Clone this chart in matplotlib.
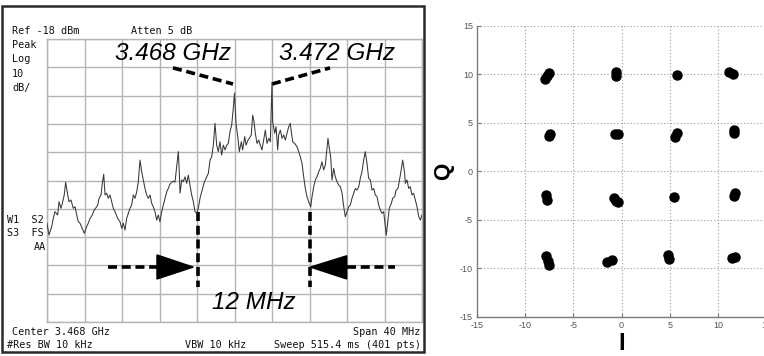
import matplotlib
matplotlib.use("Agg")
import matplotlib.pyplot as plt
from matplotlib.patches import Polygon, Rectangle

plt.rcParams["axes.unicode_minus"] = False

# ---------------- data ----------------
# Spectrum trace: frequency offset from 3.468 GHz (MHz) and level (dBm)
freq_mhz = [-20.0, -19.79, -19.50, -19.33, -19.15, -18.86, -18.72, -18.51, -18.37, -18.16,
            -18.01, -17.79, -17.65, -17.44, -17.20, -17.01, -16.83, -16.66, -16.48, -16.24,
            -16.02, -15.77, -15.60, -15.41, -15.17, -14.96, -14.81, -14.59, -14.45, -14.24,
            -14.10, -13.95, -13.81, -13.63, -13.46, -13.28, -13.10, -12.93, -12.67, -12.46,
            -12.21, -12.03, -11.86, -11.68, -11.50, -11.33, -11.15, -10.97, -10.79, -10.61,
            -10.43, -10.26, -10.08, -9.90, -9.73, -9.55, -9.37, -9.19, -9.01, -8.83,
            -8.66, -8.48, -8.30, -8.13, -7.95, -7.77, -7.59, -7.41, -7.23, -7.06,
            -6.88, -6.70, -6.53, -6.35, -6.17, -5.99, -5.89, -5.81, -5.63, -5.46,
            -5.28, -5.10, -4.93, -4.75, -4.57, -4.39, -4.21, -4.03, -3.86, -3.68,
            -3.50, -3.22, -2.97, -2.79, -2.61, -2.43, -2.26, -2.08, -1.90, -1.73,
            -1.55, -1.37, -1.19, -1.01, -0.83, -0.66, -0.48, -0.30, -0.13, 0.0,
            0.16, 0.37, 0.51, 0.73, 0.87, 1.09, 1.23, 1.44, 1.58, 1.79,
            1.94, 2.08, 2.22, 2.40, 2.58, 2.75, 2.93, 3.11, 3.29, 3.47,
            3.65, 3.82, 4.0, 4.07, 4.29, 4.43, 4.61, 4.71, 4.89, 5.07,
            5.25, 5.42, 5.60, 5.78, 5.95, 6.06, 6.21, 6.42, 6.67, 6.85,
            7.02, 7.20, 7.38, 7.55, 7.73, 7.91, 8.13, 8.27, 8.45, 8.62,
            8.80, 8.98, 9.15, 9.33, 9.51, 9.69, 9.87, 9.97, 10.11, 10.26,
            10.40, 10.58, 10.75, 10.93, 11.11, 11.29, 11.47, 11.65, 11.82, 12.00,
            12.18, 12.35, 12.53, 12.71, 12.89, 13.07, 13.25, 13.42, 13.60, 13.78,
            13.95, 14.13, 14.31, 14.49, 14.67, 14.85, 15.02, 15.20, 15.38, 15.55,
            15.73, 15.91, 16.09, 16.19, 16.37, 16.51, 16.73, 16.87, 17.09, 17.23,
            17.44, 17.69, 17.94, 18.15, 18.22, 18.40, 18.58, 18.75, 18.93, 19.11,
            19.29, 19.47, 19.65, 19.82, 20.0]
level_dbm = [-83.1, -87.3, -84.3, -81.4, -79.0, -80.2, -75.5, -77.8, -76.1, -73.1,
             -68.6, -73.1, -75.5, -74.9, -77.8, -77.3, -80.2, -82.6, -83.1, -84.9,
             -86.7, -84.3, -83.1, -81.4, -80.2, -78.4, -77.8, -76.7, -74.3, -73.1,
             -69.0, -65.8, -73.1, -72.5, -74.3, -73.1, -75.5, -77.8, -79.6, -81.4,
             -82.6, -84.9, -83.1, -85.5, -81.4, -79.6, -77.8, -76.7, -73.1, -74.3,
             -72.0, -68.4, -60.8, -64.9, -67.8, -70.8, -73.1, -74.3, -73.1, -76.1,
             -77.3, -79.0, -82.0, -80.2, -82.6, -79.0, -76.7, -74.3, -72.0, -70.8,
             -69.3, -68.6, -68.2, -68.6, -63.1, -57.8, -64.9, -72.5, -67.8, -68.4,
             -66.7, -69.0, -66.1, -69.6, -73.1, -75.5, -79.0, -79.6, -77.8, -74.3,
             -72.0, -68.6, -66.7, -65.5, -60.8, -59.6, -55.5, -47.8, -55.5, -57.8,
             -54.3, -59.0, -55.5, -57.2, -55.5, -54.9, -50.8, -48.4, -42.5, -37.1,
             -47.8, -53.1, -57.8, -54.3, -57.2, -52.5, -55.5, -53.7, -53.1, -51.9,
             -44.9, -47.2, -51.3, -54.9, -53.7, -55.5, -57.2, -53.7, -50.2, -54.9,
             -53.1, -54.3, -33.5, -47.2, -51.3, -49.0, -57.2, -51.9, -50.2, -53.1,
             -51.9, -53.7, -51.3, -49.0, -47.8, -50.8, -54.3, -54.9, -56.1, -57.8,
             -59.6, -61.9, -66.7, -70.8, -73.7, -75.5, -77.3, -73.7, -70.2, -67.8,
             -66.7, -64.9, -63.7, -61.4, -64.3, -62.5, -56.6, -53.1, -56.6, -59.6,
             -67.8, -63.7, -66.7, -68.4, -69.6, -70.2, -72.5, -77.3, -80.8, -79.0,
             -77.3, -76.7, -74.3, -72.5, -70.8, -71.4, -70.2, -67.2, -64.9, -60.8,
             -57.8, -61.9, -67.2, -67.8, -71.4, -70.8, -73.1, -73.7, -76.7, -78.4,
             -79.6, -79.0, -84.3, -87.3, -82.0, -77.8, -76.1, -74.3, -73.7, -71.4,
             -70.8, -66.1, -60.8, -65.5, -69.0, -67.8, -70.8, -70.2, -73.1, -72.5,
             -74.9, -77.3, -80.8, -82.0, -80.2]

ref_level = -18
db_per_div = 10
span_mhz = 40
bw_edges_mhz = [-3.9, 8.1]          # 12 MHz occupied bandwidth
marker_freqs = ["3.468 GHz", "3.472 GHz"]
marker_offsets = [0.0, 4.0]

# 16-QAM constellation: samples of each cluster (I, Q)
const_i = [-7.9, -7.5, -7.7, -0.6, -0.6, 5.8, 11.2, 11.6,
           -7.5, -7.4, -0.7, -0.4, 5.75, 5.6, 11.65, 11.7,
           -7.8, -7.7, -0.8, -0.6, -0.4, 5.4, 11.8, 11.65,
           -7.8, -7.6, -7.5, -1.5, -1.0, 4.85, 4.9, 11.45, 11.75]
const_q = [9.5, 10.1, 9.8, 9.8, 10.2, 9.95, 10.2, 10.0,
           3.6, 3.8, 3.8, 3.8, 3.9, 3.5, 4.3, 3.9,
           -2.4, -2.9, -2.7, -3.1, -3.2, -2.65, -2.2, -2.5,
           -8.7, -9.2, -9.6, -9.3, -9.1, -8.6, -9.0, -8.9, -8.8]
iq_ticks = [-15, -10, -5, 0, 5, 10, 15]

# ---------------- figure ----------------
W, H = 764, 356
fig = plt.figure(figsize=(W / 100, H / 100), dpi=100)
fig.patch.set_facecolor("white")

def fx(px):
    return px / W

def fy(py):
    return 1 - py / H

# Outer analyzer frame
frame = Rectangle((fx(1.5), fy(352)), fx(423.5) - fx(1.5), fy(6) - fy(352),
                  transform=fig.transFigure, fill=False, edgecolor="#2a2a2a", lw=1.8)
fig.add_artist(frame)

# Graticule axes
ax = fig.add_axes([fx(47), fy(322), fx(422) - fx(47), fy(39) - fy(322)])
ax.set_xlim(-span_mhz / 2, span_mhz / 2)
ax.set_ylim(ref_level - 10 * db_per_div, ref_level)
ax.set_xticks([-span_mhz / 2 + i * span_mhz / 10 for i in range(11)])
ax.set_yticks([ref_level - i * db_per_div for i in range(11)])
ax.grid(True, color="#b4b4b4", lw=1.0)
ax.tick_params(length=0, labelbottom=False, labelleft=False)
for s in ax.spines.values():
    s.set_color("#b4b4b4")
    s.set_linewidth(1.0)
ax.set_axisbelow(True)
ax.plot(freq_mhz, level_dbm, color="#383838", lw=0.75, zorder=3)

# Marker annotations
tfont = dict(family="Liberation Sans", style="italic", size=17.5, color="black")
ax.text(-12.75, -25.4, marker_freqs[0], ha="left", va="baseline", **tfont)
ax.text(4.75, -25.4, marker_freqs[1], ha="left", va="baseline", **tfont)
dash = dict(color="black", lw=2.6, ls=(0, (2.5, 1.3)), solid_capstyle="butt")
ax.plot([-6.56, marker_offsets[0] - 0.16], [-28.2, -33.9], **dash)
ax.plot([marker_offsets[1], 10.19], [-33.9, -28.2], **dash)

# 12 MHz bandwidth markers
for fb in bw_edges_mhz:
    ax.plot([fb, fb], [-79.1, -105.6], **dash)
ax.plot([-13.5, -8.3], [-98.6, -98.6], **dash)
ax.plot([12.0, 17.1], [-98.6, -98.6], **dash)
ax.add_patch(Polygon([[-8.27, -94.3], [-8.27, -102.8], [bw_edges_mhz[0] - 0.5, -98.6]],
                     closed=True, color="black", zorder=4))
ax.add_patch(Polygon([[11.97, -94.6], [11.97, -102.8], [bw_edges_mhz[1], -98.6]],
                     closed=True, color="black", zorder=4))
ax.text(-2.43, -113.5, "12 MHz", ha="left", va="baseline", **tfont)

# Analyzer annotation text
mono = dict(family="DejaVu Sans Mono", size=7.3, color="#111111", va="center")
fig.text(fx(12), fy(31), "Ref -18 dBm", **mono)
fig.text(fx(131), fy(31), "Atten 5 dB", **mono)
for txt, yy in [("Peak", 45), ("Log", 59.5), ("10", 74), ("dB/", 88)]:
    fig.text(fx(12), fy(yy), txt, **mono)
fig.text(fx(7), fy(220), "W1  S2", **mono)
fig.text(fx(7), fy(233.5), "S3  FS", **mono)
fig.text(fx(46), fy(247.5), "AA", ha="right", **mono)
fig.text(fx(12), fy(332), "Center 3.468 GHz", **mono)
fig.text(fx(420), fy(332), "Span 40 MHz", ha="right", **mono)
fig.text(fx(7), fy(345), "#Res BW 10 kHz", **mono)
fig.text(fx(185), fy(345), "VBW 10 kHz", **mono)
fig.text(fx(421), fy(345), "Sweep 515.4 ms (401 pts)", ha="right", **mono)

# ---------------- constellation ----------------
ax2 = fig.add_axes([fx(477), fy(317), fx(766) - fx(477), fy(25.7) - fy(317)])
ax2.set_xlim(-15, 15)
ax2.set_ylim(-15, 15)
ax2.set_xticks(iq_ticks)
ax2.set_yticks(iq_ticks)
ax2.grid(True, color="#9a9a9a", ls=(0, (1, 2)), lw=0.8)
ax2.spines["top"].set_visible(False)
ax2.spines["right"].set_visible(False)
for s in ["left", "bottom"]:
    ax2.spines[s].set_color("#7a7a7a")
    ax2.spines[s].set_linewidth(1.0)
ax2.tick_params(direction="in", length=3, color="#7a7a7a", labelcolor="#555555",
                labelsize=6.5, pad=3)
for lab in ax2.get_xticklabels() + ax2.get_yticklabels():
    lab.set_family("Liberation Sans")
ax2.plot(const_i, const_q, "o", color="black", ms=6.5, mec="black")
ax2.set_xlabel("I", family="Liberation Sans", fontsize=17, fontweight="bold", labelpad=1)
ax2.set_ylabel("Q", family="Liberation Sans", fontsize=16, fontweight="bold", labelpad=4)

fig.savefig("out.png", dpi=100)
